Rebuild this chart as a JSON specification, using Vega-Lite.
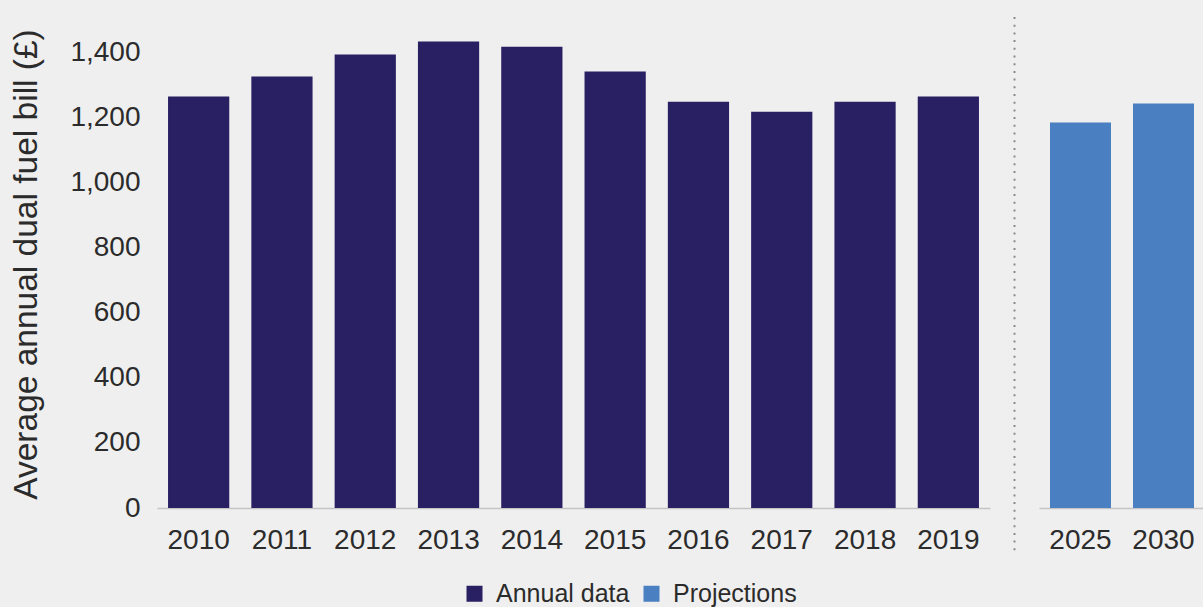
{
  "$schema": "https://vega.github.io/schema/vega-lite/v6.json",
  "background": "#efefef",
  "padding": {"left": 9, "top": 10, "right": 0, "bottom": 0},
  "spacing": 0,
  "config": {
    "view": {"stroke": null},
    "font": "Liberation Sans",
    "axis": {"labelFont": "Liberation Sans", "titleFont": "Liberation Sans", "labelColor": "#2b2b2b", "titleColor": "#2b2b2b", "grid": false, "ticks": false, "tickSize": 0},
    "legend": {"labelFont": "Liberation Sans"}
  },
  "datasets": {
    "annual": [
      {"year": "2010", "bill": 1265, "type": "Annual data"},
      {"year": "2011", "bill": 1326, "type": "Annual data"},
      {"year": "2012", "bill": 1394, "type": "Annual data"},
      {"year": "2013", "bill": 1434, "type": "Annual data"},
      {"year": "2014", "bill": 1418, "type": "Annual data"},
      {"year": "2015", "bill": 1342, "type": "Annual data"},
      {"year": "2016", "bill": 1249, "type": "Annual data"},
      {"year": "2017", "bill": 1218, "type": "Annual data"},
      {"year": "2018", "bill": 1249, "type": "Annual data"},
      {"year": "2019", "bill": 1265, "type": "Annual data"}
    ],
    "proj": [
      {"year": "2025", "bill": 1185, "type": "Projections"},
      {"year": "2030", "bill": 1243, "type": "Projections"}
    ],
    "sep": [{"low": -130, "high": 1526}]
  },
  "hconcat": [
    {
      "width": 833,
      "height": 488,
      "data": {"name": "annual"},
      "mark": {"type": "bar"},
      "encoding": {
        "x": {
          "field": "year", "type": "ordinal",
          "scale": {"paddingInner": 0.265, "paddingOuter": 0.1325},
          "axis": {"title": null, "labelAngle": 0, "labelFontSize": 28, "labelPadding": 18, "domainColor": "#c4c4c4", "domainWidth": 1.5}
        },
        "y": {
          "field": "bill", "type": "quantitative",
          "scale": {"domain": [0, 1500], "nice": false},
          "axis": {"title": "Average annual dual fuel bill (£)", "titleFontSize": 33.5, "titleFontWeight": "normal", "titlePadding": 26, "labelFontSize": 28, "labelPadding": 17, "domain": false, "values": [0, 200, 400, 600, 800, 1000, 1200, 1400], "format": ",.0f"}
        },
        "color": {
          "field": "type", "type": "nominal",
          "scale": {"domain": ["Annual data", "Projections"], "range": ["#291f63", "#4a7fc1"]},
          "legend": {"title": null, "orient": "none", "direction": "horizontal", "legendX": 305, "legendY": 561, "symbolType": "square", "symbolSize": 256, "symbolStrokeWidth": 0, "labelFontSize": 25, "labelColor": "#2b2b2b", "labelOffset": 9, "columnPadding": 9, "padding": 0}
        }
      }
    },
    {
      "width": 49,
      "height": 488,
      "data": {"name": "sep"},
      "mark": {"type": "rule", "color": "#8a8a8a", "strokeWidth": 2, "strokeDash": [2, 5.7]},
      "encoding": {
        "y": {"field": "low", "type": "quantitative", "scale": {"domain": [0, 1500], "nice": false}, "axis": null},
        "y2": {"field": "high"}
      }
    },
    {
      "width": 166,
      "height": 488,
      "data": {"name": "proj"},
      "mark": {"type": "bar"},
      "encoding": {
        "x": {
          "field": "year", "type": "ordinal",
          "scale": {"paddingInner": 0.265, "paddingOuter": 0.1325},
          "axis": {"title": null, "labelAngle": 0, "labelFontSize": 28, "labelPadding": 18, "domainColor": "#c4c4c4", "domainWidth": 1.5}
        },
        "y": {
          "field": "bill", "type": "quantitative",
          "scale": {"domain": [0, 1500], "nice": false},
          "axis": null
        },
        "color": {
          "field": "type", "type": "nominal",
          "scale": {"domain": ["Annual data", "Projections"], "range": ["#291f63", "#4a7fc1"]}
        }
      }
    }
  ],
  "resolve": {"scale": {"color": "shared", "y": "shared"}, "legend": {"color": "shared"}}
}
